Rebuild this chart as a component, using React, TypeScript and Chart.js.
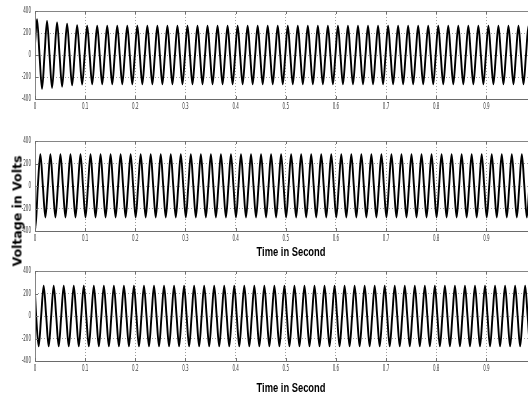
import React, { useEffect, useRef } from "react";
import { Chart, registerables } from "chart.js";

Chart.register(...registerables);

// ---- axis data ----
const X_MIN = 0;
const X_MAX = 0.983; // the picture is cut just before t = 1 s
const Y_MIN = -400;
const Y_MAX = 400;
const xTickValues = [0, 0.1, 0.2, 0.3, 0.4, 0.5, 0.6, 0.7, 0.8, 0.9];
const xTickLabels = ["0", "0.1", "0.2", "0.3", "0.4", "0.5", "0.6", "0.7", "0.8", "0.9"];
const yTickValues = [-400, -200, 0, 200, 400];
const yTickLabels = ["-400", "-200", "0", "200", "400"];

// time between successive extrema (50 Hz wave)
const HALF_PERIOD = 0.01;

// ---- phase A (top panel) ----
const topStartValue = 100;
const topFirstExtremumTime = 0.004;
const topExtrema = [
  325, -308, 310, -300, 296, -288, 285, -276, 272, -268,
  266, -266, 266, -266, 266, -266, 266, -266, 266, -266,
  266, -266, 266, -266, 266, -266, 266, -266, 266, -266,
  266, -266, 266, -266, 266, -266, 266, -266, 266, -266,
  266, -266, 266, -266, 266, -266, 266, -266, 266, -266,
  266, -266, 266, -266, 266, -266, 266, -266, 266, -266,
  266, -266, 266, -266, 266, -266, 266, -266, 266, -266,
  266, -266, 266, -266, 266, -266, 266, -266, 266, -266,
  266, -266, 266, -266, 266, -266, 266, -266, 266, -266,
  266, -266, 266, -266, 266, -266, 266, -266, 266, -266,
];

// ---- phase B (middle panel) ----
const midStartValue = -40;
const midFirstExtremumTime = 0.0007;
const midExtrema = [
  -380,
  282, -280, 282, -280, 282, -280, 282, -280, 282, -280,
  282, -280, 282, -280, 282, -280, 282, -280, 282, -280,
  282, -280, 282, -280, 282, -280, 282, -280, 282, -280,
  282, -280, 282, -280, 282, -280, 282, -280, 282, -280,
  282, -280, 282, -280, 282, -280, 282, -280, 282, -280,
  282, -280, 282, -280, 282, -280, 282, -280, 282, -280,
  282, -280, 282, -280, 282, -280, 282, -280, 282, -280,
  282, -280, 282, -280, 282, -280, 282, -280, 282, -280,
  282, -280, 282, -280, 282, -280, 282, -280, 282, -280,
  282, -280, 282, -280, 282, -280, 282, -280, 282, -280,
];

// ---- phase C (bottom panel) ----
const botStartValue = 197;
const botFirstExtremumTime = 0.0073;
const botExtrema = [
  -270, 270, -270, 270, -270, 270, -270, 270, -270, 270,
  -270, 270, -270, 270, -270, 270, -270, 270, -270, 270,
  -270, 270, -270, 270, -270, 270, -270, 270, -270, 270,
  -270, 270, -270, 270, -270, 270, -270, 270, -270, 270,
  -270, 270, -270, 270, -270, 270, -270, 270, -270, 270,
  -270, 270, -270, 270, -270, 270, -270, 270, -270, 270,
  -270, 270, -270, 270, -270, 270, -270, 270, -270, 270,
  -270, 270, -270, 270, -270, 270, -270, 270, -270, 270,
  -270, 270, -270, 270, -270, 270, -270, 270, -270, 270,
  -270, 270, -270, 270, -270, 270, -270, 270, -270, 270,
];

type Pt = { x: number; y: number };

// extrema joined through their zero crossings; the curve is smoothed by Chart.js
function buildWave(start: number, firstT: number, extrema: number[]): Pt[] {
  const pts: Pt[] = [{ x: 0, y: start }];
  let prevT = 0;
  let prevY = start;
  extrema.forEach((v, i) => {
    const t = firstT + i * HALF_PERIOD;
    if (prevY !== 0 && Math.sign(prevY) !== Math.sign(v)) {
      const zt = i === 0 ? t - HALF_PERIOD / 2 : (prevT + t) / 2;
      pts.push({ x: zt, y: 0 });
    }
    pts.push({ x: t, y: v });
    prevT = t;
    prevY = v;
  });
  return pts;
}

const framePlugin = {
  id: "matlabFrame",
  afterDraw(chart: any) {
    const { ctx, chartArea: a, scales } = chart;
    const xs = scales.x;
    const ys = scales.y;
    ctx.save();
    // box
    ctx.strokeStyle = "#858585";
    ctx.lineWidth = 1;
    ctx.beginPath();
    ctx.moveTo(a.right, Math.round(a.top) + 0.5);
    ctx.lineTo(Math.round(a.left) + 0.5, Math.round(a.top) + 0.5);
    ctx.lineTo(Math.round(a.left) + 0.5, Math.round(a.bottom) + 0.5);
    ctx.stroke();
    ctx.strokeStyle = "#6a6a6a";
    ctx.beginPath();
    ctx.moveTo(Math.round(a.left) + 0.5, Math.round(a.bottom) + 0.5);
    ctx.lineTo(a.right, Math.round(a.bottom) + 0.5);
    ctx.stroke();
    // inside tick marks
    ctx.strokeStyle = "#707070";
    ctx.beginPath();
    xTickValues.forEach((v) => {
      const px = Math.round(xs.getPixelForValue(v)) + 0.5;
      ctx.moveTo(px, a.top);
      ctx.lineTo(px, a.top + 3);
      ctx.moveTo(px, a.bottom);
      ctx.lineTo(px, a.bottom - 3);
    });
    yTickValues.forEach((v) => {
      const py = Math.round(ys.getPixelForValue(v)) + 0.5;
      ctx.moveTo(a.left, py);
      ctx.lineTo(a.left + 3, py);
    });
    ctx.stroke();
    // tick labels (narrow, MATLAB-like)
    ctx.fillStyle = "#3a3a3a";
    ctx.font = '9px "DejaVu Sans Condensed", "DejaVu Sans", sans-serif';
    ctx.textBaseline = "middle";
    xTickValues.forEach((v, i) => {
      const px = xs.getPixelForValue(v);
      ctx.save();
      ctx.translate(px, a.bottom + 8);
      ctx.scale(0.5, 1);
      ctx.textAlign = "center";
      ctx.fillText(xTickLabels[i], 0, 0);
      ctx.restore();
    });
    yTickValues.forEach((v, i) => {
      const py = ys.getPixelForValue(v);
      ctx.save();
      ctx.translate(a.left - 4, py);
      ctx.scale(0.5, 1);
      ctx.textAlign = "right";
      ctx.fillText(yTickLabels[i], 0, 0);
      ctx.restore();
    });
    ctx.restore();
  },
};

function WavePanel({ top, height, points }: { top: number; height: number; points: Pt[] }) {
  const ref = useRef<HTMLCanvasElement>(null);
  useEffect(() => {
    const chart = new Chart(ref.current as HTMLCanvasElement, {
      type: "line",
      data: {
        datasets: [
          {
            data: points as any,
            borderColor: "#000",
            borderWidth: 1.9,
            pointRadius: 0,
            cubicInterpolationMode: "monotone",
            fill: false,
          },
        ],
      },
      options: {
        responsive: false,
        animation: false,
        devicePixelRatio: 1,
        events: [],
        layout: { padding: { top: 11, left: 0, right: 0, bottom: 0 } },
        plugins: {
          legend: { display: false },
          tooltip: { enabled: false },
          title: { display: false },
        },
        scales: {
          x: {
            type: "linear",
            min: X_MIN,
            max: X_MAX,
            afterBuildTicks: (s: any) => {
              s.ticks = xTickValues.map((v) => ({ value: v }));
            },
            afterFit: (s: any) => {
              s.height = 17;
            },
            ticks: { display: false },
            grid: { color: "#a0a0a0", lineWidth: 1, drawTicks: false },
            border: { display: false, dash: [1, 2] },
          },
          y: {
            type: "linear",
            min: Y_MIN,
            max: Y_MAX,
            afterBuildTicks: (s: any) => {
              s.ticks = yTickValues.map((v) => ({ value: v }));
            },
            afterFit: (s: any) => {
              s.width = 35;
            },
            ticks: { display: false },
            grid: { color: "#a0a0a0", lineWidth: 1, drawTicks: false },
            border: { display: false, dash: [1, 2] },
          },
        } as any,
      },
      plugins: [framePlugin],
    });
    return () => chart.destroy();
  }, []);
  return (
    <canvas
      ref={ref}
      width={528}
      height={height}
      style={{ position: "absolute", left: 0, top, width: 528, height, display: "block" }}
    />
  );
}

const timeLabelStyle: React.CSSProperties = {
  position: "absolute",
  left: 291,
  fontFamily: '"Liberation Sans", Arial, sans-serif',
  fontWeight: "bold",
  fontSize: 12,
  lineHeight: "12px",
  whiteSpace: "nowrap",
  color: "#000",
  transform: "translate(-50%, -50%) scaleX(0.78)",
};

export default function App() {
  const topPts = buildWave(topStartValue, topFirstExtremumTime, topExtrema);
  const midPts = buildWave(midStartValue, midFirstExtremumTime, midExtrema);
  const botPts = buildWave(botStartValue, botFirstExtremumTime, botExtrema);
  return (
    <div
      style={{
        position: "absolute",
        left: 0,
        top: 0,
        width: 528,
        height: 396,
        background: "#fff",
        overflow: "hidden",
      }}
    >
      <WavePanel top={0} height={116} points={topPts} />
      <WavePanel top={130} height={118} points={midPts} />
      <WavePanel top={260} height={118} points={botPts} />
      <div style={{ ...timeLabelStyle, top: 252 }}>Time in Second</div>
      <div style={{ ...timeLabelStyle, top: 388 }}>Time in Second</div>
      <div
        style={{
          position: "absolute",
          left: 17,
          top: 211,
          fontFamily: '"DejaVu Sans", Verdana, sans-serif',
          fontWeight: "bold",
          fontSize: 12.5,
          lineHeight: "13px",
          whiteSpace: "nowrap",
          color: "#000",
          transform: "translate(-50%, -50%) rotate(-90deg)",
        }}
      >
        Voltage in Volts
      </div>
    </div>
  );
}
